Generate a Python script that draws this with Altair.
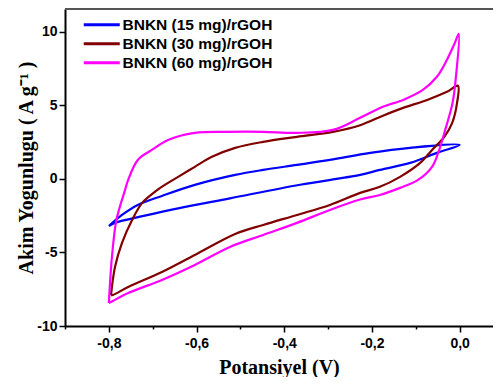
import altair as alt
import pandas as pd

# ---- data (potential V, current density A/g), loop order ----
v15 = [-0.800, -0.770, -0.734, -0.679, -0.604, -0.512, -0.448, -0.371, -0.296, -0.204, -0.113, 0.000,
       -0.052, -0.113, -0.182, -0.227, -0.364, -0.524, -0.642, -0.718, -0.786, -0.800]
i15 = [-3.20, -2.45, -1.77, -1.16, -0.41, 0.27, 0.61, 0.95, 1.29, 1.77, 2.11, 2.31,
       1.77, 1.09, 0.61, 0.27, -0.40, -1.32, -2.00, -2.50, -2.99, -3.20]

v30 = [-0.795, -0.793, -0.786, -0.770, -0.747, -0.724, -0.695, -0.683, -0.642, -0.604, -0.565, -0.512,
       -0.448, -0.371, -0.289, -0.227, -0.175, -0.129, -0.074, -0.029, -0.004,
       -0.006, -0.017, -0.035, -0.063, -0.090, -0.136, -0.182, -0.227, -0.296, -0.371, -0.448,
       -0.512, -0.604, -0.679, -0.756, -0.791, -0.795]
i30 = [-7.90, -7.35, -5.99, -4.35, -2.79, -1.63, -0.88, -0.61, 0.14, 0.82, 1.50, 2.11,
       2.52, 2.86, 3.20, 3.65, 4.30, 4.83, 5.37, 5.92, 6.33,
       5.17, 3.81, 2.86, 1.97, 1.09, 0.14, -0.54, -0.95, -1.77, -2.45, -3.13,
       -3.74, -5.17, -6.33, -7.35, -7.89, -7.90]

v60 = [-0.800, -0.793, -0.784, -0.777, -0.763, -0.756, -0.734, -0.702, -0.665, -0.604, -0.528, -0.448,
       -0.371, -0.289, -0.227, -0.175, -0.129, -0.084, -0.052, -0.029, -0.011, -0.002,
       -0.008, -0.016, -0.033, -0.049, -0.063, -0.095, -0.136, -0.182, -0.227, -0.296,
       -0.371, -0.448, -0.524, -0.604, -0.679, -0.756, -0.791, -0.800]
i60 = [-8.44, -5.31, -2.99, -2.11, -0.75, -0.07, 1.29, 1.97, 2.65, 3.13, 3.20, 3.20,
       3.13, 3.33, 4.15, 4.90, 5.37, 6.05, 6.94, 8.10, 9.25, 9.86,
       7.10, 5.20, 3.33, 1.77, 0.82, -0.07, -0.61, -1.09, -1.40, -2.11,
       -2.99, -3.81, -4.63, -5.85, -6.87, -7.76, -8.30, -8.44]

series = ["BNKN (15 mg)/rGOH", "BNKN (30 mg)/rGOH", "BNKN (60 mg)/rGOH"]
colors = ["#0000ff", "#800000", "#ff00ff"]

x_ticks = [-0.9, -0.8, -0.7, -0.6, -0.5, -0.4, -0.3, -0.2, -0.1, 0.0]
y_ticks = [-10, -7.5, -5, -2.5, 0, 2.5, 5, 7.5, 10]

rows = []
for name, vs, cs in zip(series, [v15, v30, v60], [i15, i30, i60]):
    for k, (v, c) in enumerate(zip(vs, cs)):
        rows.append({"s": name, "o": k, "v": v, "i": c})
df = pd.DataFrame(rows)

XMIN, XMAX = -0.9, 0.076
YMIN, YMAX = -10, 11.55

lab_font = "Liberation Sans"
title_font = "Liberation Serif"

x_axis = alt.Axis(
    values=x_ticks,
    labelExpr="abs(round(datum.value*10)) % 2 == 0 ? (datum.value < -0.001 ? '-' : '') + replace(format(abs(datum.value), '.1f'), '.', ',') : ''",
    tickSize=alt.condition("abs(round(datum.value*10)) % 2 == 0", alt.value(6), alt.value(3)),
    grid=False, domainColor="black", domainWidth=2, tickColor="black", tickWidth=1.5,
    labelFont=lab_font, labelFontSize=14, labelFontWeight="bold", labelColor="black",
    labelPadding=4, labelFlush=False, labelOverlap=False,
    title="Potansiyel (V)", titleFont=title_font, titleFontSize=20, titleFontWeight="bold",
    titleColor="black", titlePadding=7,
)
y_axis = alt.Axis(
    values=y_ticks,
    labelExpr="datum.value % 5 == 0 ? (datum.value < 0 ? '-' : '') + format(abs(datum.value), 'd') : ''",
    tickSize=alt.condition("datum.value % 5 == 0", alt.value(6), alt.value(3)),
    grid=False, domainColor="black", domainWidth=2, tickColor="black", tickWidth=1.5,
    labelFont=lab_font, labelFontSize=14, labelFontWeight="bold", labelColor="black",
    labelPadding=2, labelFlush=False, labelOverlap=False,
    title="Akim Yogunlugu ( A g⁻¹ )", titleFont=title_font, titleFontSize=20, titleFontWeight="bold",
    titleColor="black", titlePadding=0,
)

lines = alt.Chart(df).mark_line(strokeWidth=2.2, clip=True, interpolate="catmull-rom").encode(
    x=alt.X("v:Q", scale=alt.Scale(domain=[XMIN, XMAX], nice=False, zero=False), axis=x_axis),
    y=alt.Y("i:Q", scale=alt.Scale(domain=[YMIN, YMAX], nice=False, zero=False), axis=y_axis),
    order="o:Q",
    color=alt.Color(
        "s:N",
        scale=alt.Scale(domain=series, range=colors),
        legend=alt.Legend(
            title=None, orient="none", legendX=29, legendY=8, padding=0,
            symbolType="M-3,0H3", symbolSize=144, symbolStrokeWidth=3,
            labelFont=lab_font, labelFontSize=15.5, labelFontWeight="bold", labelColor="black",
            labelOffset=13, rowPadding=2,
        ),
    ),
)

top = alt.Chart(pd.DataFrame({"t": [YMAX]})).mark_rule(color="#555555", strokeWidth=2).encode(
    y=alt.Y("t:Q")
)

chart = alt.layer(lines, top).properties(
    width=428, height=317,
    autosize=alt.AutoSizeParams(type="none"),
    padding={"left": 57, "top": 1, "right": 0, "bottom": 51},
).configure_view(stroke=None)

chart.save("out.html", embed_options={"renderer": "svg", "actions": False})
